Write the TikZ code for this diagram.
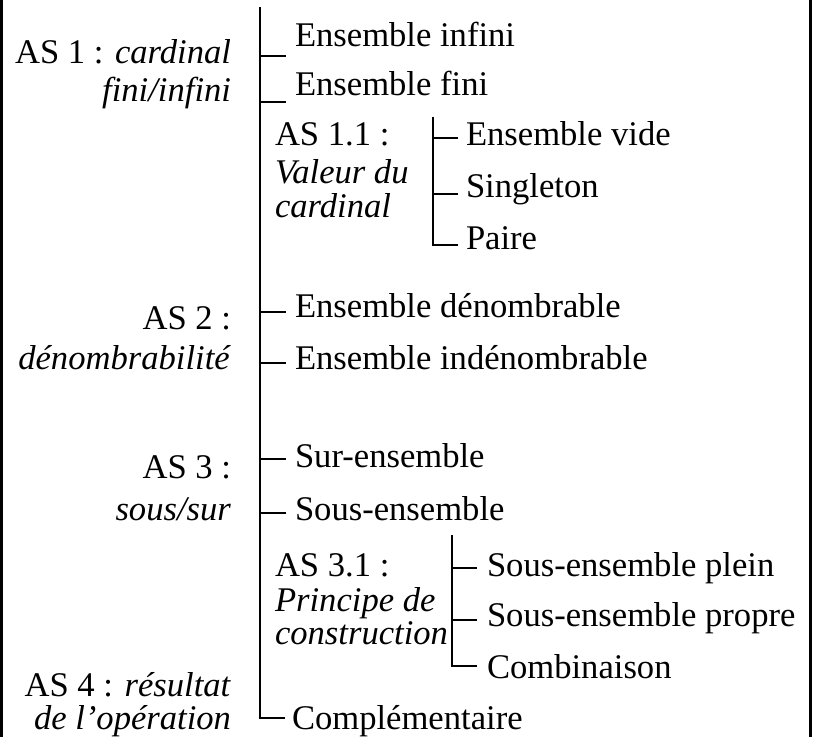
\documentclass[tikz,border=0pt]{standalone}
\usepackage{fontspec}
\setmainfont{Liberation Serif}
\usetikzlibrary{calc}
\begin{document}
\begin{tikzpicture}[x=0.5pt,y=-0.5pt,
  every node/.style={inner sep=0pt,outer sep=0pt,font=\fontsize{17.3}{20}\selectfont},
  lbl/.style={anchor=base east},
  itm/.style={anchor=base west},
  conn/.style={line width=0.65pt},
  frame/.style={line width=1.3pt}]
\useasboundingbox (0,0) rectangle (814,737);

% side rules of the frame
\draw[frame] (1.5,0) -- (1.5,737);
\draw[frame] (810.5,0) -- (810.5,737);

% left column: axes
\node[lbl] (as1a) at (231,64)  {AS 1 : \textit{cardinal}};
\node[lbl] (as1b) at (231,102) {\textit{fini/infini}};
\node[lbl] (as2a) at (231,330) {AS 2 :};
\node[lbl] (as2b) at (231,370) {\textit{dénombrabilité}};
\node[lbl] (as3a) at (231,479) {AS 3 :};
\node[lbl] (as3b) at (231,521) {\textit{sous/sur}};
\node[lbl] (as4a) at (231,696) {AS 4 : \textit{résultat}};
\node[lbl] (as4b) at (231,729) {\textit{de l’opération}};

% right column: values
\node[itm] (ei)    at (295,47)  {Ensemble infini};
\node[itm] (ef)    at (295,96)  {Ensemble fini};
\node[itm] (as11a) at (275,146) {AS 1.1 :};
\node[itm] (as11b) at (275,184) {\textit{Valeur du}};
\node[itm] (as11c) at (275,218) {\textit{cardinal}};
\node[itm] (ev)    at (466,146) {Ensemble vide};
\node[itm] (sg)    at (466,198) {Singleton};
\node[itm] (pa)    at (466,250) {Paire};
\node[itm] (ed)    at (295,318) {Ensemble dénombrable};
\node[itm] (eid)   at (295,370) {Ensemble indénombrable};
\node[itm] (sur)   at (295,467) {Sur-ensemble};
\node[itm] (sous)  at (295,520) {Sous-ensemble};
\node[itm] (as31a) at (275,576) {AS 3.1 :};
\node[itm] (as31b) at (275,611) {\textit{Principe de}};
\node[itm] (as31c) at (275,644) {\textit{construction}};
\node[itm] (sepl)  at (487,576) {Sous-ensemble plein};
\node[itm] (sepr)  at (487,626) {Sous-ensemble propre};
\node[itm] (comb)  at (487,678) {Combinaison};
\node[itm] (compl) at (292,729) {Complémentaire};

% main trunk
\coordinate (trunk) at (260,7);
\coordinate (bend)  at (260,718);
\draw[conn] (trunk) -- (bend) -- ($(bend -| compl.west)+(-7,0)$);
\foreach \nd/\dy in {ei/9,ef/6,ed/-6,eid/-7,sur/-8,sous/-7} {
  \coordinate (e-\nd) at ($(\nd.base west)+(-9,\dy)$);
  \draw[conn] (trunk |- e-\nd) -- (e-\nd);
}

% sub-tree of AS 1.1
\coordinate (sub1) at (433,117);
\foreach \nd/\dy in {ev/-8,sg/-4,pa/-5}
  \coordinate (e-\nd) at ($(\nd.base west)+(-8,\dy)$);
\draw[conn] (sub1) -- (sub1 |- e-pa) -- (e-pa);
\draw[conn] (sub1 |- e-ev) -- (e-ev);
\draw[conn] (sub1 |- e-sg) -- (e-sg);

% sub-tree of AS 3.1
\coordinate (sub2) at (452,535);
\foreach \nd/\dy in {sepl/-8,sepr/-6,comb/-12}
  \coordinate (e-\nd) at ($(\nd.base west)+(-10,\dy)$);
\draw[conn] (sub2) -- (sub2 |- e-comb) -- (e-comb);
\draw[conn] (sub2 |- e-sepl) -- (e-sepl);
\draw[conn] (sub2 |- e-sepr) -- (e-sepr);
\end{tikzpicture}
\end{document}
